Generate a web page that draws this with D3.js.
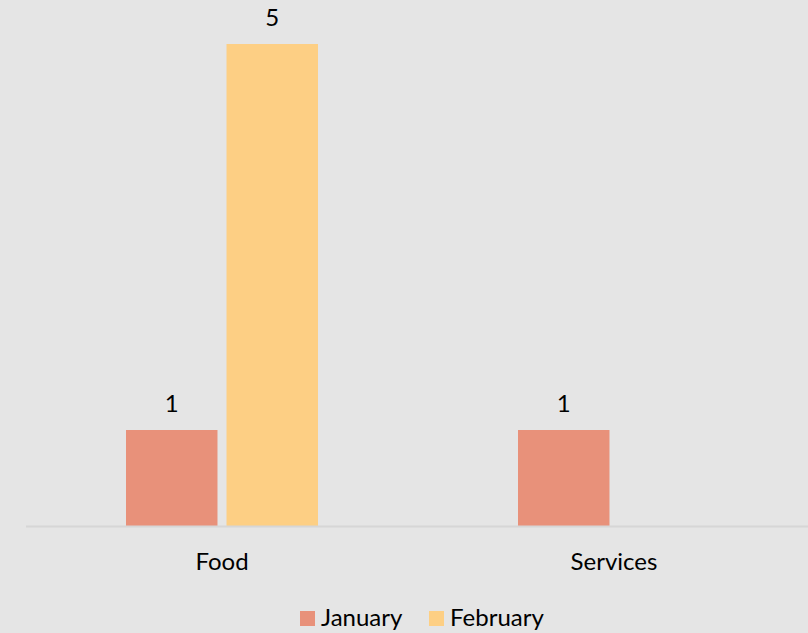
<!DOCTYPE html>
<html>
<head>
<meta charset="utf-8">
<script src="https://cdn.jsdelivr.net/npm/d3@7"></script>
<style>
  html, body { margin: 0; padding: 0; background: #e5e5e5; }
  svg { display: block; font-family: Lato, "Open Sans", sans-serif; }
</style>
</head>
<body>
<svg id="chart" width="808" height="633"></svg>
<script>
const categories = ['Food', 'Services'];
const seriesNames = ['January', 'February'];
const january = [1, 1];
const february = [5, null];
const colors = ['#e8917a', '#fdcf84'];

(function() {

const svg = d3.select('#chart');
const width = 808;
const height = 633;
const fontSize = 24;

svg.append('rect')
  .attr('width', width)
  .attr('height', height)
  .attr('fill', '#e5e5e5');

const x = d3.scaleBand()
  .domain(categories)
  .range([26, 810]);

const xInner = d3.scaleBand()
  .domain(seriesNames)
  .range([100, 292])
  .paddingInner(0.09);

const y = d3.scaleLinear()
  .domain([0, 5])
  .range([526.5, 44]);

const color = d3.scaleOrdinal()
  .domain(seriesNames)
  .range(colors);

const values = [january, february];
const rows = [];
categories.forEach((c, i) => {
  seriesNames.forEach((s, j) => {
    if (values[j][i] != null) rows.push({cat: c, series: s, value: values[j][i]});
  });
});

// bars
svg.selectAll('.bar')
  .data(rows)
  .enter().append('rect')
    .attr('class', 'bar')
    .attr('x', d => x(d.cat) + xInner(d.series))
    .attr('y', d => y(d.value))
    .attr('width', xInner.bandwidth())
    .attr('height', d => y(0) - y(d.value))
    .attr('fill', d => color(d.series));

// value labels
svg.selectAll('.val')
  .data(rows)
  .enter().append('text')
    .attr('class', 'val')
    .attr('x', d => x(d.cat) + xInner(d.series) + xInner.bandwidth() / 2)
    .attr('y', d => y(d.value) - 18.5)
    .attr('text-anchor', 'middle')
    .attr('font-size', fontSize)
    .attr('fill', '#000')
    .text(d => d.value);

// baseline axis
const axis = svg.append('g')
  .attr('transform', `translate(0,${y(0)})`)
  .call(d3.axisBottom(x).tickSize(0).tickPadding(0));
axis.select('.domain')
  .attr('d', `M26,0H808`)
  .attr('stroke', '#d6d6d6')
  .attr('stroke-width', 2);
axis.selectAll('.tick text')
  .attr('y', 43.5)
  .attr('dy', null)
  .attr('font-size', fontSize)
  .attr('font-family', 'Lato, "Open Sans", sans-serif')
  .attr('fill', '#000');

// legend
const legendItems = [
  {name: seriesNames[0], x: 300, tx: 321},
  {name: seriesNames[1], x: 429, tx: 450}
];
const legend = svg.selectAll('.legend')
  .data(legendItems)
  .enter().append('g')
    .attr('class', 'legend');
legend.append('rect')
  .attr('x', d => d.x)
  .attr('y', 611)
  .attr('width', 15)
  .attr('height', 15)
  .attr('fill', d => color(d.name));
legend.append('text')
  .attr('x', d => d.tx)
  .attr('y', 626)
  .attr('font-size', fontSize)
  .attr('fill', '#000')
  .text(d => d.name);

})();
</script>
</body>
</html>
